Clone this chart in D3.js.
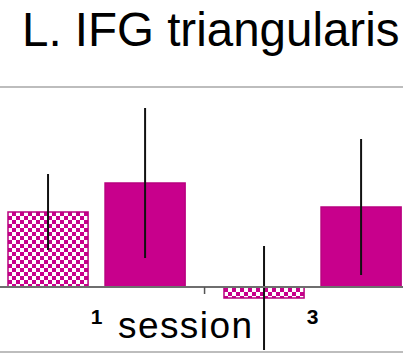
<!DOCTYPE html>
<html>
<head>
<meta charset="utf-8">
<script src="https://cdn.jsdelivr.net/npm/d3@7"></script>
<style>
  body { margin: 0; background: #fff; }
  svg { display: block; }
</style>
</head>
<body>
<svg class="chart" width="403" height="358"></svg>
<script>
// data
var sessions = ["1", "3"];
var conditions = ["checker", "solid"];
var means = { "1": [0.75, 1.04], "3": [-0.11, 0.80] };
var errors = { "1": [0.38, 0.75], "3": [0.52, 0.68] };
var title = "L. IFG triangularis";
var xTitle = "session";

var svg = d3.select(".chart"),
    width = +svg.attr("width"),
    height = +svg.attr("height");

var magenta = "#c8008c";

// checker pattern
var defs = svg.append("defs");
var pat = defs.append("pattern")
    .attr("id", "checks")
    .attr("patternUnits", "userSpaceOnUse")
    .attr("width", 8).attr("height", 8);
pat.append("rect").attr("width", 8).attr("height", 8).attr("fill", "#fff");
pat.append("rect").attr("width", 4).attr("height", 4).attr("fill", magenta);
pat.append("rect").attr("x", 4).attr("y", 4).attr("width", 4).attr("height", 4).attr("fill", magenta);

var plotTop = 87, plotBottom = 352;

var y = d3.scaleLinear()
    .domain([-0.65, 2.0])
    .range([plotBottom, plotTop]);

var x = d3.scaleBand()
    .domain(sessions)
    .range([-11.44, 420.56])
    .paddingInner(0.18)
    .paddingOuter(0.09);

var x1 = d3.scaleBand()
    .domain(conditions)
    .range([0, x.bandwidth()])
    .paddingInner(0.175);

// title
svg.append("text")
    .attr("x", 22)
    .attr("y", 46)
    .style("font-family", "Liberation Sans, Arial, sans-serif")
    .style("font-size", "47.5px")
    .attr("fill", "#000")
    .text(title);

// plot area borders
svg.append("line")
    .attr("x1", 0).attr("x2", width)
    .attr("y1", plotTop).attr("y2", plotTop)
    .attr("stroke", "#bdbdbd").attr("stroke-width", 2);
svg.append("line")
    .attr("x1", 0).attr("x2", width)
    .attr("y1", plotBottom).attr("y2", plotBottom)
    .attr("stroke", "#bdbdbd").attr("stroke-width", 2);

var rows = [];
sessions.forEach(s => {
    conditions.forEach((c, i) => {
        rows.push({ session: s, cond: c, mean: means[s][i], err: errors[s][i] });
    });
});

var g = svg.append("g");

g.selectAll("rect.bar")
    .data(rows)
    .enter()
    .append("rect")
    .attr("class", "bar")
    .attr("x", d => x(d.session) + x1(d.cond))
    .attr("width", x1.bandwidth())
    .attr("y", d => y(Math.max(0, d.mean)))
    .attr("height", d => Math.abs(y(d.mean) - y(0)))
    .attr("fill", d => d.cond == "checker" ? "url(#checks)" : magenta)
    .attr("stroke", "#b8007f")
    .attr("stroke-width", 1.5);

// zero line
svg.append("line")
    .attr("x1", 0).attr("x2", width)
    .attr("y1", y(0)).attr("y2", y(0))
    .attr("stroke", "#6e6e6e").attr("stroke-width", 2);

// ticks between categories
var step = x.step();
var tickXs = sessions.slice(1).map(s => x(s) - step * x.paddingInner() / 2);
svg.selectAll("line.tick")
    .data(tickXs)
    .enter()
    .append("line")
    .attr("class", "tick")
    .attr("x1", d => d).attr("x2", d => d)
    .attr("y1", y(0)).attr("y2", y(0) + 7)
    .attr("stroke", "#555").attr("stroke-width", 1.5);

// error bars
g.selectAll("line.err")
    .data(rows)
    .enter()
    .append("line")
    .attr("class", "err")
    .attr("x1", d => x(d.session) + x1(d.cond) + x1.bandwidth() / 2)
    .attr("x2", d => x(d.session) + x1(d.cond) + x1.bandwidth() / 2)
    .attr("y1", d => y(d.mean + d.err))
    .attr("y2", d => y(d.mean - d.err))
    .attr("stroke", "#111")
    .attr("stroke-width", 2);

// category labels
svg.selectAll("text.cat")
    .data(sessions)
    .enter()
    .append("text")
    .attr("class", "cat")
    .attr("x", d => x(d) + x.bandwidth() / 2)
    .attr("y", 324)
    .attr("text-anchor", "middle")
    .style("font-family", "Liberation Sans, Arial, sans-serif")
    .style("font-size", "21px")
    .style("font-weight", "bold")
    .text(d => d);

// axis title
svg.append("text")
    .attr("x", 118)
    .attr("y", 338)
    .attr("textLength", 134)
    .style("font-family", "Liberation Sans, Arial, sans-serif")
    .style("font-size", "37px")
    .text(xTitle);
</script>
</body>
</html>
